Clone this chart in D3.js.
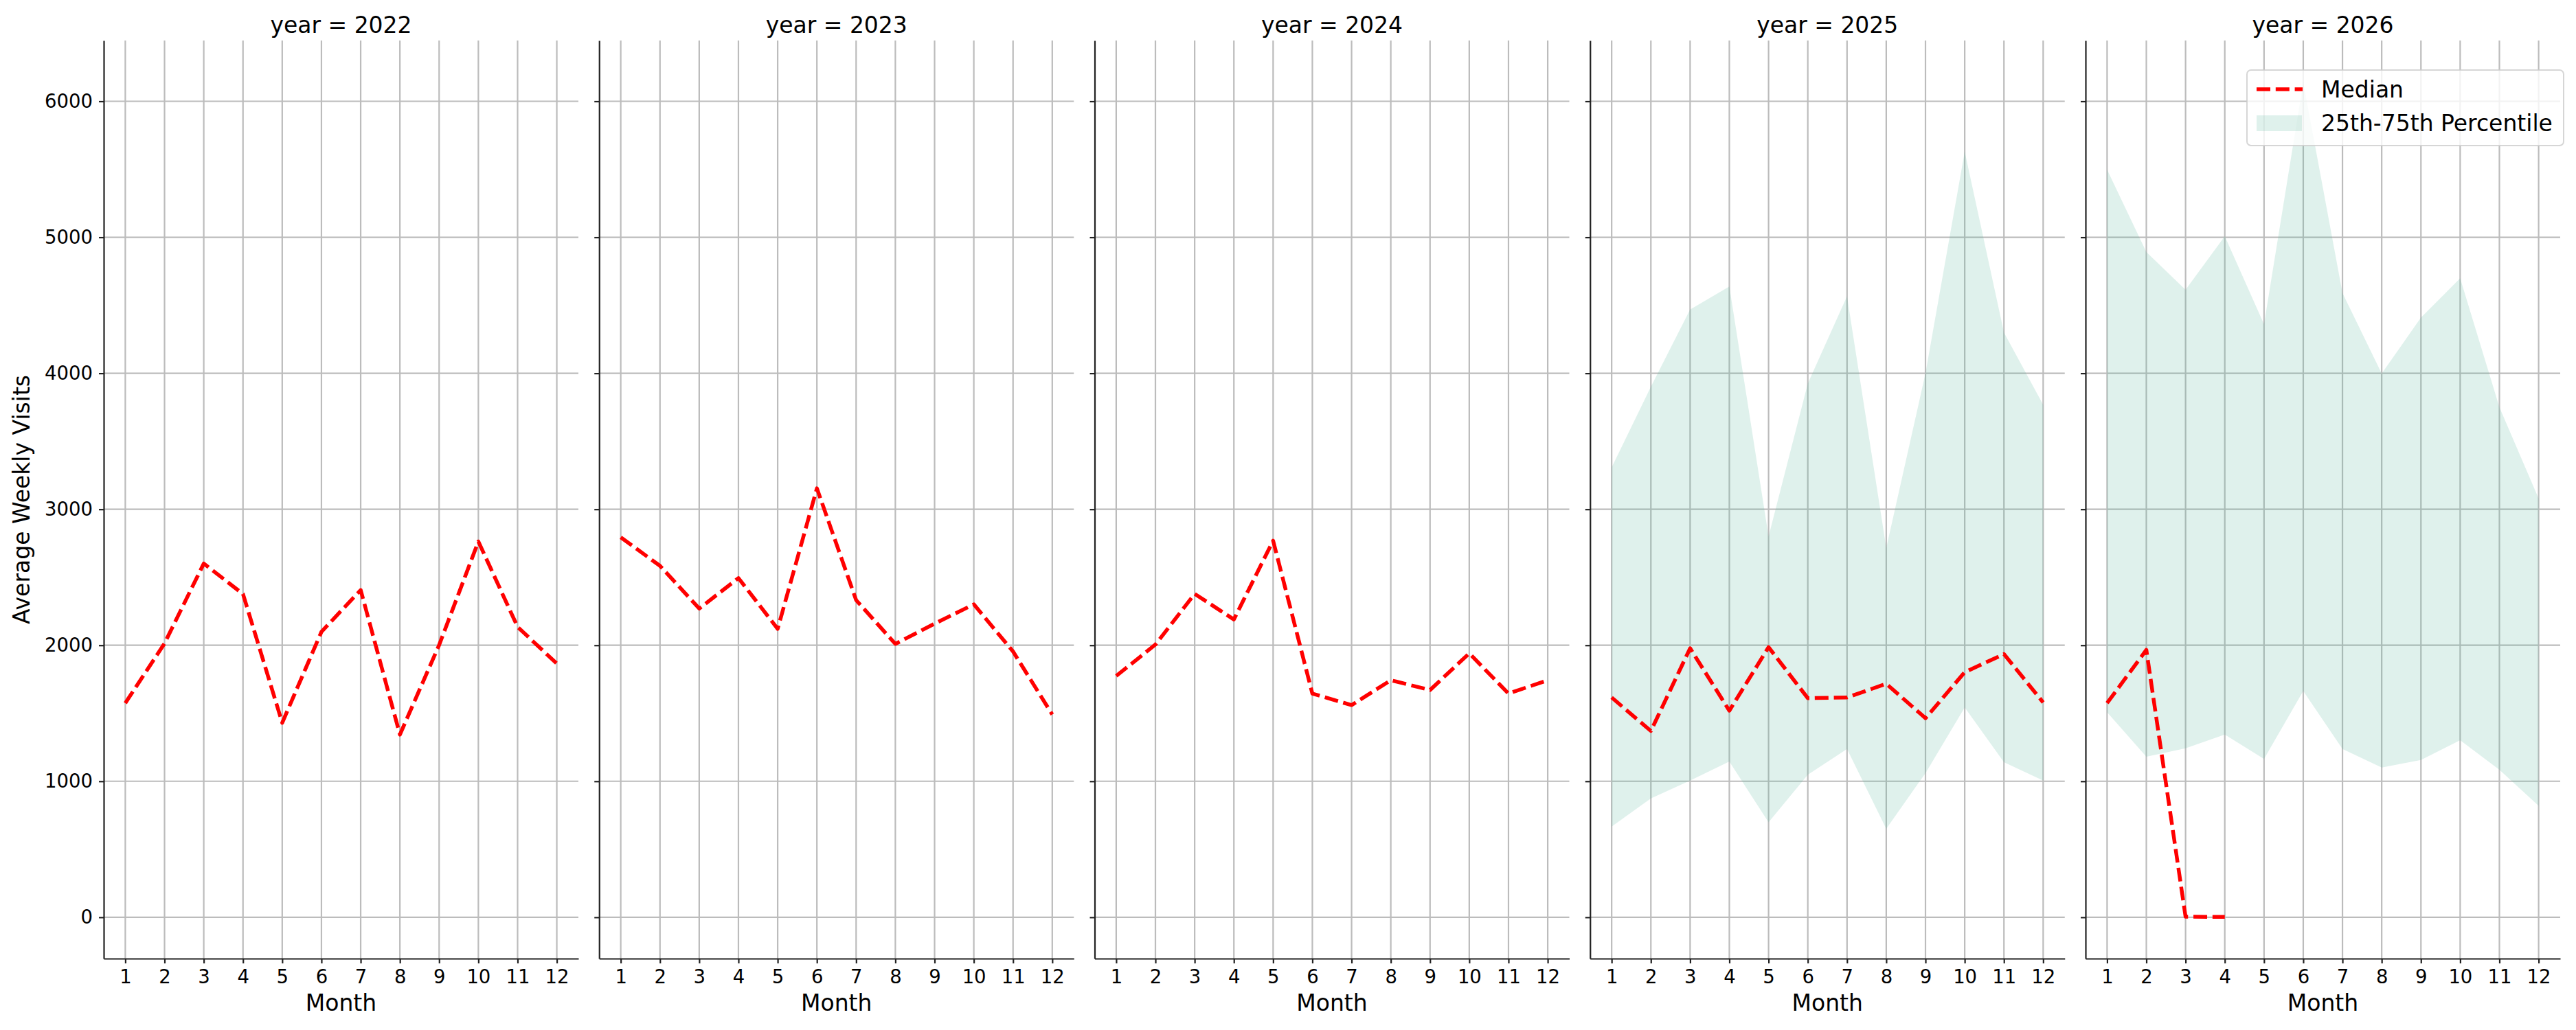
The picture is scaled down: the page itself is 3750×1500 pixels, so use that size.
<!DOCTYPE html>
<html>
<head>
<meta charset="utf-8">
<script src="https://cdn.jsdelivr.net/npm/d3@7"></script>
<style>
  html, body { margin: 0; padding: 0; background: #fff; }
  svg { display: block; font-family: 'DejaVu Sans', sans-serif; }
</style>
</head>
<body>
<div id="chart"></div>
<script>
// average weekly visits by month, one panel per year
const months = [1, 2, 3, 4, 5, 6, 7, 8, 9, 10, 11, 12]
const years = [2022, 2023, 2024, 2025, 2026]
const yTicks = [0, 1000, 2000, 3000, 4000, 5000, 6000]

const median2022 = [1575, 2014, 2601, 2377, 1430, 2099, 2406, 1343, 2002, 2763, 2135, 1865]
const median2023 = [2794, 2584, 2270, 2494, 2121, 3154, 2332, 2010, 2159, 2301, 1954, 1491]
const median2024 = [1774, 2005, 2378, 2190, 2769, 1645, 1560, 1743, 1671, 1941, 1645, 1743]
const median2025 = [1616, 1370, 1978, 1519, 1986, 1611, 1616, 1717, 1464, 1802, 1935, 1580]
const median2026 = [1575, 1966, 4, 3, null, null, null, null, null, null, null, null]

// percentile band only exists for the last two years
const p25_2025 = [667, 874, 1005, 1145, 698, 1048, 1237, 650, 1060, 1543, 1140, 1005]
const p75_2025 = [3308, 3901, 4469, 4638, 2800, 3925, 4566, 2715, 4000, 5630, 4300, 3768]
const p25_2026 = [1507, 1181, 1242, 1343, 1164, 1664, 1237, 1101, 1157, 1302, 1085, 819]
const p75_2026 = [5497, 4892, 4614, 5008, 4360, 6140, 4590, 3998, 4409, 4699, 3750, 3079]

const series = {
  2022: { median: median2022 },
  2023: { median: median2023 },
  2024: { median: median2024 },
  2025: { median: median2025, p25: p25_2025, p75: p75_2025 },
  2026: { median: median2026, p25: p25_2026, p75: p75_2026 }
}

const W = 3750
const H = 1500
const panelLeft = 151
const panelStep = 721.25
const panelW = 691
const panelTop = 59
const panelH = 1396 - 59

const gridColor = '#bcbcbc'
const spineColor = '#222'
const lineColor = '#ff0000'
const dash = '20,7.8'

// matplotlib-like 5% padding
function padExtent (ext) {
  const span = ext[1] - ext[0]
  return [ext[0] - 0.05 * span, ext[1] + 0.05 * span]
}

const allValues = d3.merge(years.map(yr => {
  const s = series[yr]
  return [].concat(s.median, s.p25 || [], s.p75 || [])
})).filter(v => v != null)

const x = d3.scaleLinear().domain(padExtent(d3.extent(months))).range([0, panelW])
const y = d3.scaleLinear().domain(padExtent(d3.extent(allValues))).range([panelH, 0])

const svg = d3.select('#chart').append('svg')
  .attr('width', W)
  .attr('height', H)

svg.append('rect').attr('width', W).attr('height', H).attr('fill', '#fff')

years.forEach((year, i) => {
  const s = series[year]
  const rows = months.map((m, k) => ({
    month: m,
    median: s.median[k],
    p25: s.p25 ? s.p25[k] : null,
    p75: s.p75 ? s.p75[k] : null
  }))

  const g = svg.append('g')
    .attr('transform', 'translate(' + (panelLeft + i * panelStep) + ',' + panelTop + ')')

  // grid
  g.append('g').selectAll('line')
    .data(months)
    .enter().append('line')
    .attr('x1', d => x(d)).attr('x2', d => x(d))
    .attr('y1', 0).attr('y2', panelH)
    .attr('stroke', gridColor).attr('stroke-width', 2.2)

  g.append('g').selectAll('line')
    .data(yTicks)
    .enter().append('line')
    .attr('x1', 0).attr('x2', panelW)
    .attr('y1', d => y(d)).attr('y2', d => y(d))
    .attr('stroke', gridColor).attr('stroke-width', 2.2)

  // 25th-75th band
  if (s.p25) {
    const area = d3.area()
      .defined(d => d.p25 != null && d.p75 != null)
      .x(d => x(d.month))
      .y0(d => y(d.p25))
      .y1(d => y(d.p75))

    g.append('path')
      .datum(rows)
      .attr('d', area)
      .attr('fill', 'rgb(95,185,160)')
      .attr('fill-opacity', 0.2)
  }

  // axes
  const yAxis = d3.axisLeft(y)
    .tickValues(yTicks)
    .tickSize(7)
    .tickSizeOuter(0)
    .tickPadding(9)
    .tickFormat(i > 0 ? '' : d3.format('d'))

  const xAxis = d3.axisBottom(x)
    .tickValues(months)
    .tickSize(7)
    .tickSizeOuter(0)
    .tickPadding(9)
    .tickFormat(d3.format('d'))

  const ya = g.append('g').call(yAxis)
  const xa = g.append('g').attr('transform', 'translate(0,' + panelH + ')').call(xAxis)

  ;[ya, xa].forEach(ax => {
    ax.attr('font-family', null).attr('font-size', null)
    ax.select('.domain').attr('stroke', spineColor).attr('stroke-width', 2.2)
    ax.selectAll('.tick line').attr('stroke', spineColor).attr('stroke-width', 2.2)
    ax.selectAll('.tick text')
      .attr('fill', '#000')
      .style('font-family', "'DejaVu Sans', sans-serif")
      .style('font-size', '27.5px')
  })

  // median line
  const line = d3.line()
    .defined(d => d.median != null)
    .x(d => x(d.month))
    .y(d => y(d.median))

  g.append('path')
    .datum(rows)
    .attr('d', line)
    .attr('fill', 'none')
    .attr('stroke', lineColor)
    .attr('stroke-width', 5.5)
    .attr('stroke-dasharray', dash)
    .attr('stroke-linejoin', 'round')

  // titles
  g.append('text')
    .attr('x', panelW / 2)
    .attr('y', -11)
    .attr('text-anchor', 'middle')
    .style('font-size', '33px')
    .attr('fill', '#000')
    .text('year = ' + year)

  g.append('text')
    .attr('x', panelW / 2)
    .attr('y', 1472 - panelTop)
    .attr('text-anchor', 'middle')
    .style('font-size', '33px')
    .attr('fill', '#000')
    .text('Month')
})

svg.append('text')
  .attr('transform', 'translate(43,' + (panelTop + panelH / 2) + ') rotate(-90)')
  .attr('text-anchor', 'middle')
  .style('font-size', '33px')
  .attr('fill', '#000')
  .text('Average Weekly Visits')

// legend, upper right of the last panel
const legend = svg.append('g').attr('transform', 'translate(3271,102)')

legend.append('rect')
  .attr('width', 461)
  .attr('height', 110)
  .attr('rx', 6)
  .attr('fill', '#fff')
  .attr('fill-opacity', 0.8)
  .attr('stroke', '#cccccc')
  .attr('stroke-opacity', 0.8)
  .attr('stroke-width', 2)

legend.append('line')
  .attr('x1', 14).attr('x2', 81)
  .attr('y1', 28).attr('y2', 28)
  .attr('stroke', lineColor)
  .attr('stroke-width', 5.5)
  .attr('stroke-dasharray', dash)

legend.append('rect')
  .attr('x', 14).attr('y', 66)
  .attr('width', 66).attr('height', 23)
  .attr('fill', 'rgb(95,185,160)')
  .attr('fill-opacity', 0.2)

legend.append('text')
  .attr('x', 108).attr('y', 40)
  .style('font-size', '33px')
  .attr('fill', '#000')
  .text('Median')

legend.append('text')
  .attr('x', 108).attr('y', 89)
  .style('font-size', '33px')
  .attr('fill', '#000')
  .text('25th-75th Percentile')
</script>
</body>
</html>
